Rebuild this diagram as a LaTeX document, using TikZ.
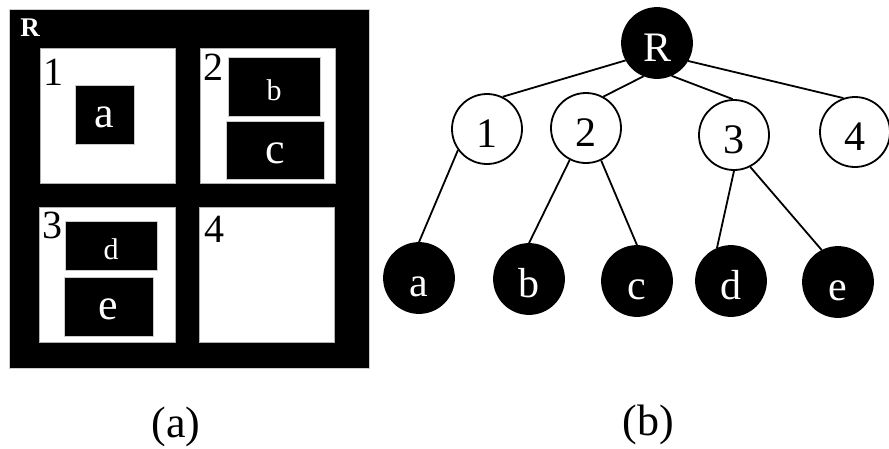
\documentclass[tikz,border=0pt]{standalone}
\usepackage{fontspec}
\setmainfont{Liberation Serif}
\usetikzlibrary{positioning}
\newcommand{\fsz}[1]{\fontsize{#1}{#1}\selectfont}

\begin{document}
\begin{tikzpicture}[x=1pt, y=-1pt,
    blk/.style={rectangle, fill=black, draw=gray!40, line width=0.6pt, inner sep=0pt, outer sep=0pt, text=white},
    wht/.style={rectangle, fill=white, draw=gray!60, line width=0.6pt, inner sep=0pt, outer sep=0pt},
    bigl/.style={font=\fsz{44}, text height=26pt, text depth=0pt},
    smll/.style={font=\fsz{30}, text height=28pt, text depth=0pt},
    num/.style={anchor=base, inner sep=0pt, font=\fsz{40}},
    wnode/.style={circle, draw, line width=1.8pt, fill=white, minimum size=70pt, inner sep=0pt, font=\fsz{42}, text height=37pt, text depth=0pt},
    bnode/.style={wnode, fill=black, text=white},
    edge/.style={line width=1.8pt}]
      \useasboundingbox (0,0) rectangle (889,448);
      %\draw [dotted] (0,0) grid [step=50] (889,448);
      % (a) regions
      \node [blk, minimum width=360pt, minimum height=359pt] (frame) at (189, 188.5) {};
      \node [num, text=white, font=\fsz{27}\bfseries]         (lR) at ( 30,  36) {R};
      \node [wht, minimum width=135pt, minimum height=135pt]   (q1) at (107.5, 115.5) {};
      \node [wht, minimum width=135pt, minimum height=135pt]   (q2) at (267.5, 115.5) {};
      \node [wht, minimum width=136pt, minimum height=135pt]   (q3) at (107, 274.5) {};
      \node [wht, minimum width=135pt, minimum height=135pt]   (q4) at (266.5, 274.5) {};
      \node [num]                                               (l1) at ( 53,  85) {1};
      \node [num]                                               (l2) at (213,  80) {2};
      \node [num]                                               (l3) at ( 52, 238) {3};
      \node [num]                                               (l4) at (214, 242) {4};
      \node [blk, bigl, minimum width=59pt, minimum height=59pt] (ra) at (104.5, 114.5) {a};
      \node [blk, smll, minimum width=92pt, minimum height=59pt] (rb) at (274, 86.5) {b};
      \node [blk, bigl, minimum width=98pt, minimum height=58pt] (rc) at (275, 150) {c};
      \node [blk, smll, minimum width=92pt, minimum height=49pt] (rd) at (111, 245.5) {d};
      \node [blk, bigl, minimum width=89pt, minimum height=59pt] (re) at (108.5, 306.5) {e};
      \node [font=\fsz{44}]                                    (capa) at (176, 427) {(a)};
      % (b) tree
      \node [bnode] (R)  at (657,  43) {R};
      \node [wnode] (n1) at (487, 129) {1};
      \node [wnode] (n2) at (586, 128) {2};
      \node [wnode] (n3) at (734, 135) {3};
      \node [wnode] (n4) at (855, 132) {4};
      \node [bnode] (a)  at (419, 278) {a};
      \node [bnode] (b)  at (529, 279) {b};
      \node [bnode] (c)  at (637, 281) {c};
      \node [bnode] (d)  at (731, 281) {d};
      \node [bnode] (e)  at (838, 282) {e};
      \node [font=\fsz{44}] (capb) at (648, 425) {(b)};
      \draw [edge] (R.209) -- (n1.64);
      \draw [edge] (R.248) -- (n2.61);
      \draw [edge] (R.294) -- (n3.92);
      \draw [edge] (R.330) -- (n4.109);
      \draw [edge] (n1.216) -- (a.90);
      \draw [edge] (n2.243) -- (b.90);
      \draw [edge] (n2.295) -- (c.90);
      \draw [edge] (n3.270) -- (d.113);
      \draw [edge] (n3.297) -- (e.117);
\end{tikzpicture}
\end{document}
